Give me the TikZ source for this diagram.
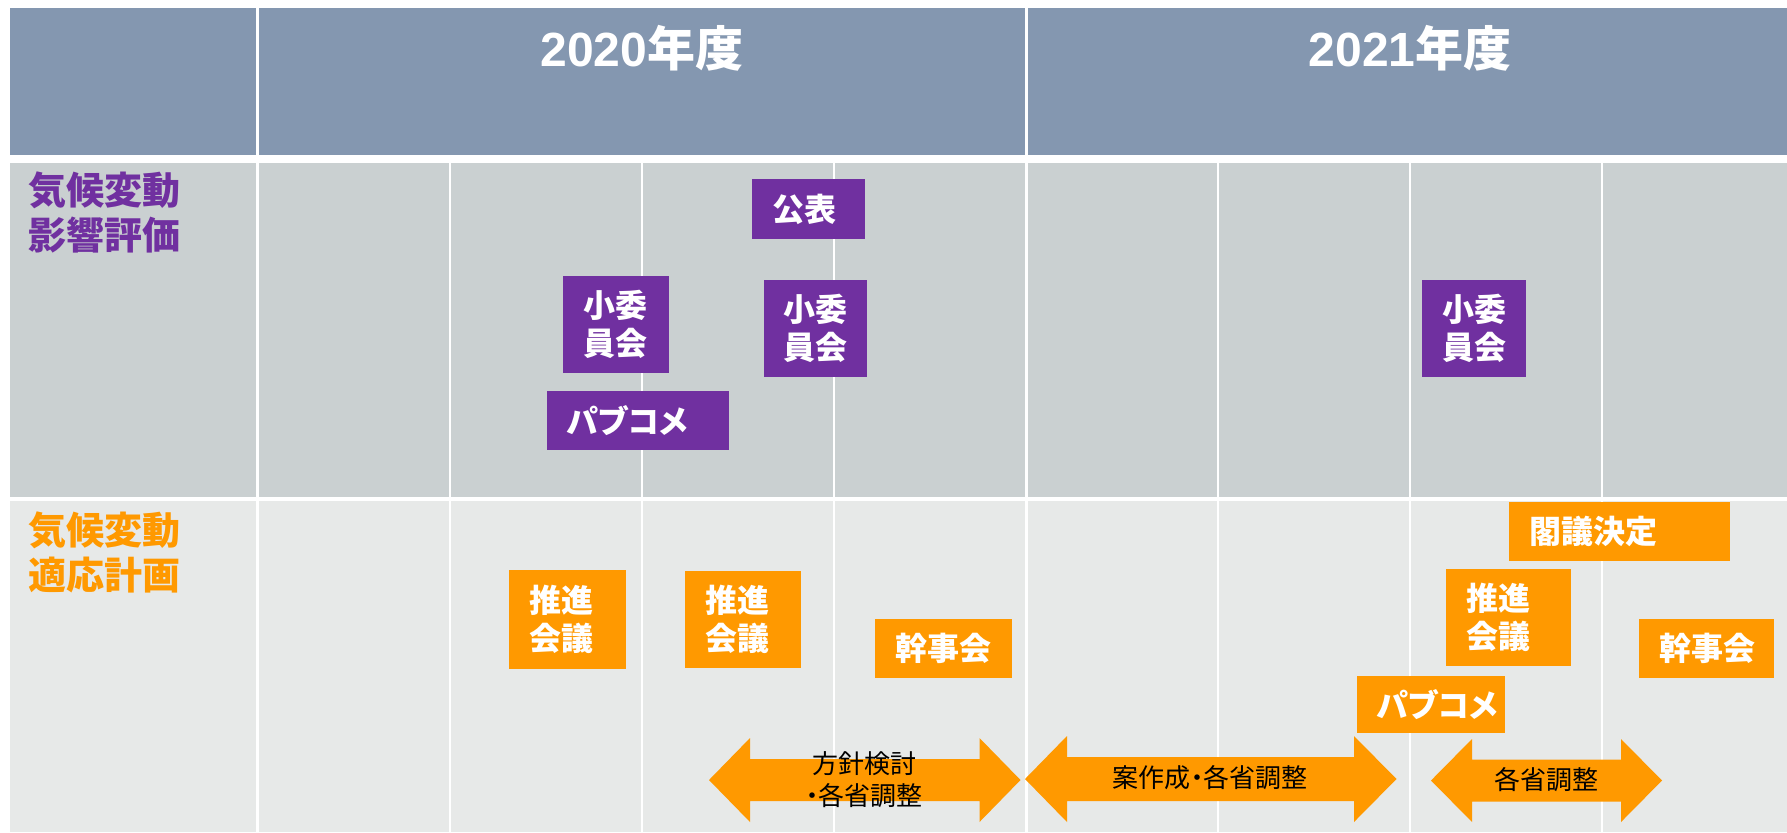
\documentclass[tikz,border=0pt]{standalone}
\usepackage{fontspec}
\setmainfont{Liberation Sans}
\newfontfamily\jp[RawFeature=+palt]{Noto Sans CJK JP}
\definecolor{hdr}{HTML}{8497B0}
\definecolor{rowa}{HTML}{CAD0D1}
\definecolor{rowb}{HTML}{E7E9E8}
\definecolor{pur}{HTML}{7030A0}
\definecolor{org}{HTML}{FF9900}
\newcommand\dblarr[7]{% L Lb Rb R c hh sh
  \fill[org] (#1,#5) -- (#2,#5-#6) -- (#2,#5-#7) -- (#3,#5-#7) -- (#3,#5-#6) -- (#4,#5)
    -- (#3,#5+#6) -- (#3,#5+#7) -- (#2,#5+#7) -- (#2,#5+#6) -- cycle;}
\tikzset{
  pbox/.style={fill=pur, text=white, font=\jp\bfseries\fontsize{16}{19}\selectfont, align=left, inner xsep=10pt, inner ysep=0pt},
  obox/.style={pbox, fill=org},
  rowlab/.style={font=\jp\bfseries\fontsize{19}{22.5}\selectfont, align=left, inner sep=0pt, anchor=west},
  arrlab/.style={font=\jp\fontsize{13}{16}\selectfont, align=center, inner sep=0pt},
  yearlab/.style={text=white, font=\bfseries\fontsize{24}{28}\selectfont, inner sep=0pt},
  thickdiv/.style={white, line width=1.5pt},
  thindiv/.style={white, line width=1pt}
}
\begin{document}
\begin{tikzpicture}[x=0.5pt,y=-0.5pt]
\useasboundingbox (0,0) rectangle (1787,832);
% backgrounds
\fill[hdr] (10,8) rectangle (1787,155);
\fill[rowa] (10,163) rectangle (1787,497);
\fill[rowb] (10,501) rectangle (1787,832);
\draw[thickdiv] (257,8) -- (257,832);
\draw[thickdiv] (1026,8) -- (1026,832);
\foreach \x in {449.5,642,834,1218,1410,1602} \draw[thindiv] (\x,160) -- (\x,832);
% headers
\node[yearlab] (y2020) at (642,48) {2020{\jp 年度}};
\node[yearlab] (y2021) at (1410,48) {2021{\jp 年度}};
% row labels
\node[rowlab, text=pur] (lab1) at (28,212.5) {気候変動\\影響評価};
\node[rowlab, text=org] (lab2) at (28,552.5) {気候変動\\適応計画};
% purple boxes
\node[pbox, text width=36.5pt, minimum height=30pt] (kohyo) at (808.5,209) {公表};
\node[pbox, text width=33pt, minimum height=48.5pt] (sho1) at (616,324.5) {小委\\員会};
\node[pbox, text width=32pt, inner xsep=9.75pt, minimum height=48.5pt] (sho2) at (815.5,328.5) {小委\\員会};
\node[pbox, text width=71pt, minimum height=29.5pt] (pub1) at (638,420.5) {パブコメ};
\node[pbox, text width=32pt, minimum height=48.5pt] (sho3) at (1474,328.5) {小委\\員会};
% orange boxes
\node[obox, text width=38.5pt, minimum height=49.5pt] (sui1) at (567.5,619.5) {推進\\会議};
\node[obox, text width=38pt, minimum height=48.5pt] (sui2) at (743,619.5) {推進\\会議};
\node[obox, text width=48.5pt, minimum height=29.5pt] (kan1) at (943.5,648.5) {幹事会};
\node[obox, text width=90.5pt, minimum height=29.5pt] (kakugi) at (1619.5,531.5) {閣議決定};
\node[obox, text width=42.5pt, minimum height=48.5pt] (sui3) at (1508.5,617.5) {推進\\会議};
\node[obox, text width=47.5pt, minimum height=29.5pt] (kan2) at (1706.5,648.5) {幹事会};
\node[obox, text width=54pt, minimum height=28.5pt] (pub2) at (1431,704.5) {パブコメ};
% arrows
\dblarr{709}{750}{979.5}{1020.5}{780}{42}{21}
\dblarr{1025}{1067}{1354}{1396.5}{779}{43}{22}
\dblarr{1431}{1472}{1621}{1662}{780.5}{41.5}{21}
\node[arrlab] (a1) at (864,780) {方針検討\\・各省調整};
\node[arrlab] (a2) at (1210,778) {案作成・各省調整};
\node[arrlab] (a3) at (1546,780) {各省調整};
\end{tikzpicture}
\end{document}
